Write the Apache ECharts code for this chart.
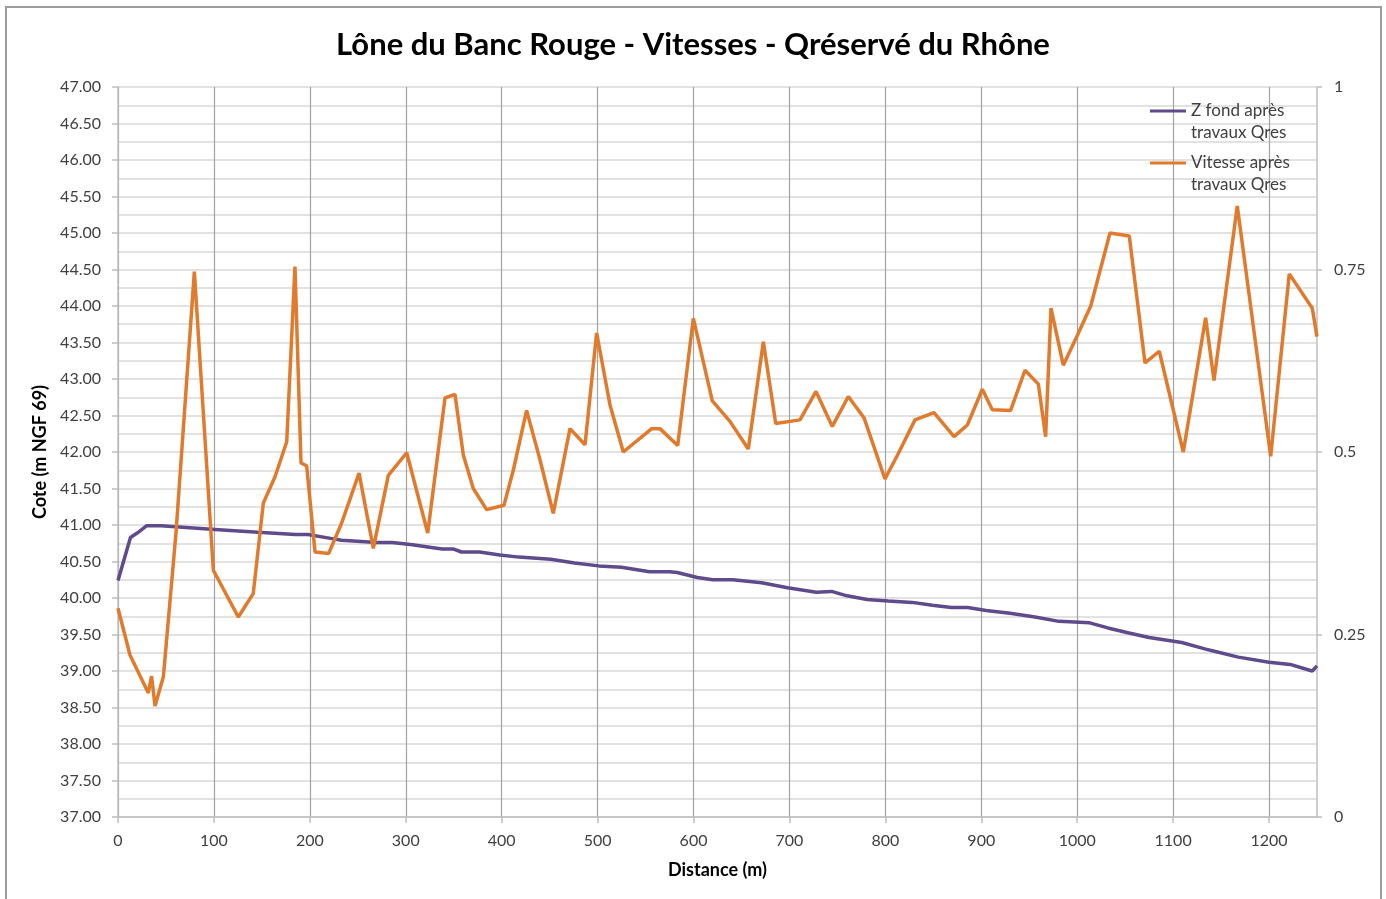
<!DOCTYPE html>
<html>
<head>
<meta charset="utf-8">
<script src="https://cdn.jsdelivr.net/npm/echarts@6/dist/echarts.min.js"></script>
<style>
  body { margin: 0; background: #fff; }
  #main { width: 1386px; height: 899px; }
  #frame { position: absolute; left: 5px; top: 6px; width: 1373px; height: 1000px; border: 2px solid #9d9d9d; pointer-events: none; }
</style>
</head>
<body>
<div id="main"></div>
<div id="frame"></div>
<script>
  // Z fond après travaux Qres (m NGF 69)
  var zDist = [0, 13, 20, 30, 45, 101, 146, 185, 198, 220, 233, 270, 286, 307, 323, 338, 350, 358, 377, 398,
    418, 451, 476, 501, 525, 554, 575, 583, 604, 620, 641, 671, 698, 728, 744, 760, 781, 803, 828, 849,
    869, 886, 905, 930, 956, 981, 1013, 1032, 1054, 1075, 1109, 1134, 1143, 1168, 1200, 1222, 1245, 1250];
  var zFond = [40.24, 40.83, 40.89, 40.99, 40.99, 40.94, 40.90, 40.87, 40.87, 40.82, 40.79, 40.76, 40.76, 40.73, 40.70, 40.67, 40.67, 40.63, 40.63, 40.59,
    40.56, 40.53, 40.48, 40.44, 40.42, 40.36, 40.36, 40.35, 40.28, 40.25, 40.25, 40.21, 40.14, 40.08, 40.09, 40.03, 39.98, 39.96, 39.94, 39.90,
    39.87, 39.87, 39.83, 39.79, 39.74, 39.68, 39.66, 39.59, 39.52, 39.46, 39.39, 39.30, 39.27, 39.19, 39.12, 39.09, 39.00, 39.07];

  // Vitesse après travaux Qres (m/s)
  var vDist = [0, 12.5, 31.6, 35, 38.6, 47.3, 60.5, 79.6, 99.4, 125.4, 141, 151.5, 163.7, 175.9, 184.5, 190.8, 196.7, 205.4, 219.6, 233,
    251.3, 266.2, 281.8, 301, 322.9, 340.9, 351.3, 360, 370.4, 384.3, 402.4, 412.1, 426, 440, 453.8, 471.2, 486.9, 499, 513, 526.8,
    556.4, 565, 583.5, 599.8, 619.6, 638, 657.1, 672.8, 685.7, 711, 727.7, 744.7, 761.4, 777.7, 799.6, 813.5, 830.9, 850.7, 871.6, 885.5,
    901.1, 911.5, 930.6, 945.6, 959.5, 967.1, 972.7, 985.5, 999.5, 1014.1, 1034.2, 1054.3, 1070.7, 1085.6, 1110.6, 1133.9, 1142.6, 1166.9, 1201.7, 1221.1,
    1245.1, 1250];
  var vitesse = [0.286, 0.222, 0.170, 0.193, 0.152, 0.192, 0.39, 0.747, 0.338, 0.274, 0.306, 0.430, 0.466, 0.514, 0.754, 0.485, 0.481, 0.363, 0.361, 0.402,
    0.471, 0.368, 0.468, 0.499, 0.389, 0.574, 0.579, 0.496, 0.450, 0.421, 0.427, 0.475, 0.557, 0.489, 0.416, 0.532, 0.510, 0.663, 0.564, 0.500,
    0.532, 0.532, 0.509, 0.683, 0.570, 0.542, 0.504, 0.651, 0.539, 0.544, 0.583, 0.535, 0.576, 0.547, 0.463, 0.498, 0.544, 0.554, 0.521, 0.537,
    0.586, 0.558, 0.557, 0.612, 0.593, 0.521, 0.697, 0.619, 0.658, 0.700, 0.800, 0.796, 0.622, 0.638, 0.500, 0.684, 0.598, 0.837, 0.494, 0.744,
    0.697, 0.658];

  var xTicks = [0, 100, 200, 300, 400, 500, 600, 700, 800, 900, 1000, 1100, 1200];

  var fontName = 'Lato';
  var txt = '#404040';

  function pairs(xs, ys) {
    var out = [];
    for (var i = 0; i < xs.length; i++) out.push([xs[i], ys[i]]);
    return out;
  }

  // legende : icone alignee sur la 1ere ligne (ligne vide en tete)
  function legendBox(name, label, top) {
    return {
      data: [name],
      left: 1150, top: top, padding: 0,
      icon: 'rect', itemWidth: 36, itemHeight: 3,
      formatter: function () { return label; },
      textStyle: { fontSize: 17, color: txt, lineHeight: 22 }
    };
  }

  var chart = echarts.init(document.getElementById('main'));
  chart.setOption({
    animation: false,
    textStyle: { fontFamily: fontName },
    title: {
      text: 'Lône du Banc Rouge - Vitesses - Qréservé du Rhône',
      left: 'center',
      top: 21,
      textStyle: { fontFamily: fontName, fontSize: 31, fontWeight: 'bold', color: '#000', lineHeight: 38 }
    },
    legend: [
      legendBox('Z fond après travaux Qres', '\nZ fond après\ntravaux Qres', 78),
      legendBox('Vitesse après travaux Qres', '\nVitesse après\ntravaux Qres', 130)
    ],
    grid: { left: 118, right: 69, top: 87, bottom: 82 },
    xAxis: {
      type: 'value',
      min: 0, max: 1250, interval: 100,
      name: 'Distance (m)',
      nameLocation: 'middle',
      nameGap: 44,
      nameTextStyle: { fontSize: 18, fontWeight: 'bold', color: '#000' },
      axisLine: { lineStyle: { color: '#bfbfbf', width: 1.5 } },
      axisTick: { show: true, length: 6, customValues: xTicks, lineStyle: { color: '#bfbfbf', width: 1.5 } },
      axisLabel: { customValues: xTicks, fontSize: 16, color: txt, margin: 16, formatter: function (v) { return String(v); } },
      splitLine: { show: true, lineStyle: { color: '#a3a3a3', width: 1.2 } }
    },
    yAxis: [{
      type: 'value',
      min: 37, max: 47, interval: 0.5,
      name: 'Cote (m NGF 69)',
      nameLocation: 'middle',
      nameGap: 66,
      nameTextStyle: { fontSize: 18, fontWeight: 'bold', color: '#000' },
      axisLine: { show: true, lineStyle: { color: '#bfbfbf', width: 1.5 } },
      axisTick: { show: true, length: 6, lineStyle: { color: '#bfbfbf', width: 1.5 } },
      axisLabel: { fontSize: 16, color: txt, margin: 17, formatter: function (v) { return v.toFixed(2); } },
      splitLine: { show: true, lineStyle: { color: '#d9d9d9', width: 1.5 } },
      minorTick: { show: false, splitNumber: 2 },
      minorSplitLine: { show: true, lineStyle: { color: '#d9d9d9', width: 1.5 } }
    }, {
      type: 'value',
      min: 0, max: 1, interval: 0.25,
      position: 'right',
      axisLine: { show: true, lineStyle: { color: '#bfbfbf', width: 1.5 } },
      axisTick: { show: true, length: 5, lineStyle: { color: '#bfbfbf', width: 1.5 } },
      axisLabel: { fontSize: 16, color: txt, margin: 17 },
      splitLine: { show: false }
    }],
    series: [{
      name: 'Z fond après travaux Qres',
      type: 'line',
      yAxisIndex: 0,
      symbol: 'none',
      data: pairs(zDist, zFond),
      lineStyle: { color: '#5f4a8b', width: 3.5 },
      itemStyle: { color: '#5f4a8b' }
    }, {
      name: 'Vitesse après travaux Qres',
      type: 'line',
      yAxisIndex: 1,
      symbol: 'none',
      data: pairs(vDist, vitesse),
      lineStyle: { color: '#e07a2c', width: 3.5 },
      itemStyle: { color: '#e07a2c' }
    }]
  });
</script>
</body>
</html>
